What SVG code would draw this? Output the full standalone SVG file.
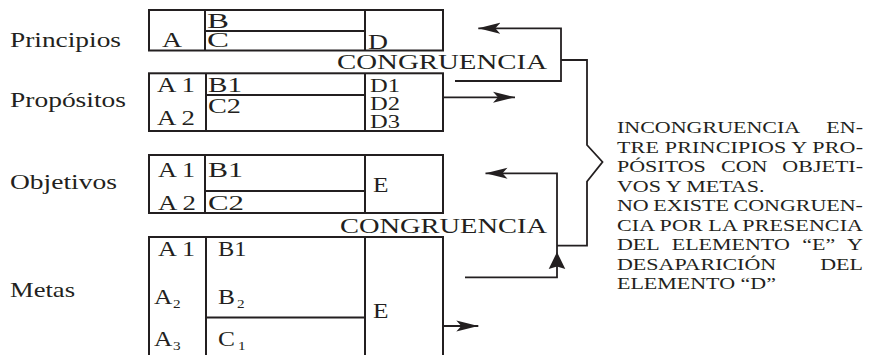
<svg xmlns="http://www.w3.org/2000/svg" width="874" height="355" viewBox="0 0 874 355">
<style>
  text { font-family: "Liberation Serif", "Times New Roman", serif; fill: #231f20; }
  .lbl { font-size: 22px; }
  .bx { font-size: 20px; }
  .dd { font-size: 19px; }
  .sub { font-size: 12px; }
  .cg { font-size: 21.5px; }
  .nt { font-size: 17.6px; }
  .box { fill: none; stroke: #231f20; stroke-width: 2; }
  .ln { fill: none; stroke: #231f20; stroke-width: 1.8; }
</style>
<defs>
  <marker id="ah" markerUnits="userSpaceOnUse" markerWidth="24" markerHeight="12" viewBox="0 0 24 12" refX="22" refY="6" orient="auto">
    <path d="M22,6 L0,0.5 L5,6 L0,11.5 Z" fill="#231f20"/>
  </marker>
  <marker id="ahw" markerUnits="userSpaceOnUse" markerWidth="18" markerHeight="18" viewBox="0 0 18 18" refX="17" refY="9" orient="auto">
    <path d="M17,9 L0,0.7 L2.5,9 L0,17.3 Z" fill="#231f20"/>
  </marker>
</defs>

<g id="principios">
  <text class="lbl" x="10" y="47" textLength="111" lengthAdjust="spacingAndGlyphs">Principios</text>
  <rect class="box" x="149" y="10" width="294" height="40.5"/>
  <path class="box" d="M205,10 V50.5 M365,10 V50.5 M205,31 H365"/>
  <text class="lbl" x="162" y="46.5" textLength="20" lengthAdjust="spacingAndGlyphs">A</text>
  <text class="bx" x="207" y="28" font-size="21" textLength="22" lengthAdjust="spacingAndGlyphs">B</text>
  <text class="bx" x="207" y="47" font-size="21" textLength="22" lengthAdjust="spacingAndGlyphs">C</text>
  <text class="bx" x="368" y="49" font-size="21" textLength="20" lengthAdjust="spacingAndGlyphs">D</text>
</g>

<g id="congruencia-1">
  <text class="cg" x="337" y="69" textLength="210" lengthAdjust="spacingAndGlyphs">CONGRUENCIA</text>
</g>

<g id="propositos">
  <text class="lbl" x="10" y="107" textLength="116" lengthAdjust="spacingAndGlyphs">Propósitos</text>
  <rect class="box" x="149" y="73.3" width="294" height="57.7"/>
  <path class="box" d="M206,73.3 V131 M365,73.3 V131 M206,95 H365"/>
  <text class="bx" x="157" y="91.7" textLength="38" lengthAdjust="spacingAndGlyphs">A 1</text>
  <text class="bx" x="157" y="124.5" textLength="38" lengthAdjust="spacingAndGlyphs">A 2</text>
  <text class="bx" x="208" y="92" textLength="34" lengthAdjust="spacingAndGlyphs">B1</text>
  <text class="bx" x="208" y="112.5" textLength="33" lengthAdjust="spacingAndGlyphs">C2</text>
  <text class="dd" x="370" y="92" textLength="30" lengthAdjust="spacingAndGlyphs">D1</text>
  <text class="dd" x="370" y="110" textLength="30" lengthAdjust="spacingAndGlyphs">D2</text>
  <text class="dd" x="370" y="128.3" textLength="30" lengthAdjust="spacingAndGlyphs">D3</text>
</g>

<g id="objetivos">
  <text class="lbl" x="10" y="189" textLength="107" lengthAdjust="spacingAndGlyphs">Objetivos</text>
  <rect class="box" x="149" y="155" width="294" height="58"/>
  <path class="box" d="M205,155 V213 M365,155 V213 M205,191 H365"/>
  <text class="bx" x="158" y="177" textLength="37" lengthAdjust="spacingAndGlyphs">A 1</text>
  <text class="bx" x="158" y="210" textLength="38" lengthAdjust="spacingAndGlyphs">A 2</text>
  <text class="bx" x="208" y="177" textLength="35" lengthAdjust="spacingAndGlyphs">B1</text>
  <text class="bx" x="208" y="210" textLength="36" lengthAdjust="spacingAndGlyphs">C2</text>
  <text class="bx" x="373" y="192" textLength="15.5" lengthAdjust="spacingAndGlyphs">E</text>
</g>

<g id="congruencia-2">
  <text class="cg" x="340" y="233" textLength="207" lengthAdjust="spacingAndGlyphs">CONGRUENCIA</text>
</g>

<g id="metas">
  <text class="lbl" x="10" y="297" textLength="65" lengthAdjust="spacingAndGlyphs">Metas</text>
  <path class="box" d="M149,358 V237 H443 V358"/>
  <path class="box" d="M206,237 V358 M365,237 V358 M206,317.5 H365"/>
  <text class="bx" x="158" y="256" textLength="37" lengthAdjust="spacingAndGlyphs">A 1</text>
  <text class="bx" x="218" y="256" textLength="28.5" lengthAdjust="spacingAndGlyphs">B1</text>
  <text class="bx" transform="translate(154,304) scale(1.27,1)">A<tspan class="sub" x="15" y="4">2</tspan></text>
  <text class="bx" transform="translate(218,304) scale(1.27,1)">B<tspan class="sub" x="15" y="4">2</tspan></text>
  <text class="bx" x="373" y="318" textLength="15.5" lengthAdjust="spacingAndGlyphs">E</text>
  <text class="bx" transform="translate(154,346) scale(1.27,1)">A<tspan class="sub" x="15" y="4">3</tspan></text>
  <text class="bx" transform="translate(218,346) scale(1.27,1)">C<tspan class="sub" x="15.7" y="4">1</tspan></text>
</g>

<g id="connectors">
  <path class="ln" d="M455,81 H561 V28.3 H478.3" marker-end="url(#ah)"/>
  <path class="ln" d="M443,97.3 H515" marker-end="url(#ah)"/>
  <path class="ln" d="M561,60 H587 V145 L602.5,162 L587,181.5 V245.7 H557"/>
  <path class="ln" d="M465,277.3 H557 V252" marker-end="url(#ahw)"/>
  <path class="ln" d="M557,252 V173.3 H485.5" marker-end="url(#ah)"/>
  <path class="ln" d="M443,326 H478.3" marker-end="url(#ah)"/>
</g>

<g id="nota" class="nt" transform="scale(1.25,1)">
  <text class="nt" y="133.5"><tspan x="493.6">INCONGRUENCIA</tspan> <tspan x="661.1">EN-</tspan></text>
  <text class="nt" x="493.6" y="153" textLength="196.8" lengthAdjust="spacing">TRE PRINCIPIOS Y PRO-</text>
  <text class="nt" y="172.5"><tspan x="493.6">PÓSITOS</tspan> <tspan x="576.85">CON</tspan> <tspan x="625.9">OBJETI-</tspan></text>
  <text class="nt" x="493.6" y="192">VOS Y METAS.</text>
  <text class="nt" y="211.5"><tspan x="493.6">NO</tspan> <tspan x="522.6">EXISTE</tspan> <tspan x="586.8">CONGRUEN-</tspan></text>
  <text class="nt" x="493.6" y="231" textLength="196.8" lengthAdjust="spacing">CIA POR LA PRESENCIA</text>
  <text class="nt" y="250.5"><tspan x="493.6">DEL</tspan> <tspan x="537.4">ELEMENTO</tspan> <tspan x="641.8">“E”</tspan> <tspan x="677.7">Y</tspan></text>
  <text class="nt" y="270"><tspan x="493.6">DESAPARICIÓN</tspan> <tspan x="656.2">DEL</tspan></text>
  <text class="nt" x="493.6" y="289.5">ELEMENTO “D”</text>
</g>
</svg>
